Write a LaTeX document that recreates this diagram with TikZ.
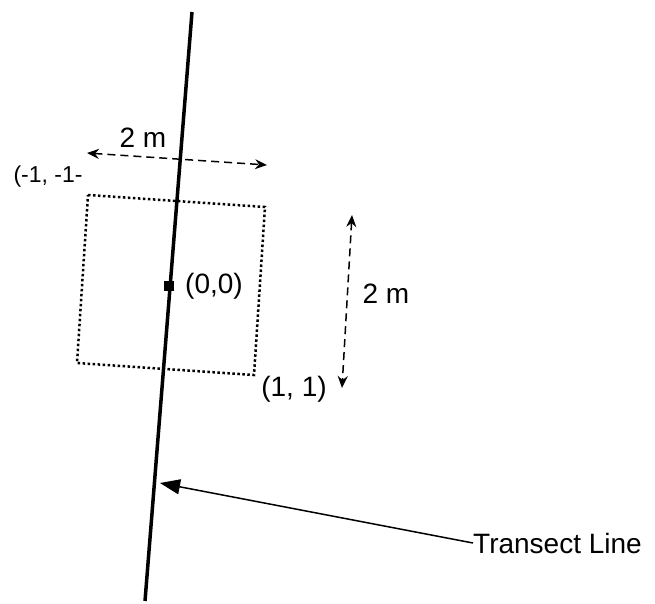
\documentclass[tikz,border=0pt]{standalone}
\usepackage{fontspec}
\setmainfont{Liberation Sans}
\usetikzlibrary{arrows.meta}
\begin{document}
\begin{tikzpicture}[x=1pt,y=-1pt,
  lbl/.style={font=\fontsize{28}{32}\selectfont, inner sep=0pt},
  smalllbl/.style={font=\fontsize{23}{27}\selectfont, inner sep=0pt},
  dimarrow/.style={line width=1.5pt, dash pattern=on 8pt off 5pt, {Stealth[length=12pt,width=10pt,inset=4pt]}-{Stealth[length=12pt,width=10pt,inset=4pt]}},
  plotbox/.style={line width=2.5pt, dash pattern=on 2.5pt off 2.5pt},
  transect/.style={line width=3.5pt},
  pointer/.style={line width=1.5pt, -{Triangle[length=20pt,width=15pt]}}]
\useasboundingbox (0,0) rectangle (655,603);
% transect line
\coordinate (ttop) at (192,12);
\coordinate (tbot) at (145,601);
\draw[transect] (ttop) -- (tbot);
% plot square
\coordinate (c1) at (88,195);
\coordinate (c2) at (265,207);
\coordinate (c3) at (254,375);
\coordinate (c4) at (77,363);
\draw[plotbox] (c1) -- (c2) -- (c3) -- (c4) -- cycle;
% centre marker
\node[fill=black, minimum size=10pt, inner sep=0pt] (ctr) at (169,286) {};
\node[lbl, anchor=west] (ctrlbl) at (185,286) {(0,0)};
% corner labels
\node[smalllbl] (tl) at (48,177) {(-1, -1-};
\node[lbl] (br) at (294,389) {(1, 1)};
% horizontal dimension
\coordinate (h1) at (87,153);
\coordinate (h2) at (267,165);
\draw[dimarrow] (h1) -- (h2);
\node[lbl] (hlbl) at (143,138) {2 m};
% vertical dimension
\coordinate (v1) at (352,215);
\coordinate (v2) at (342,388);
\draw[dimarrow] (v1) -- (v2);
\node[lbl] (vlbl) at (386,294) {2 m};
% transect label
\node[lbl, anchor=west] (tlbl) at (473,543) {Transect Line};
\coordinate (tip) at (160,483);
\draw[pointer] (tlbl.west) -- (tip);
\end{tikzpicture}
\end{document}
